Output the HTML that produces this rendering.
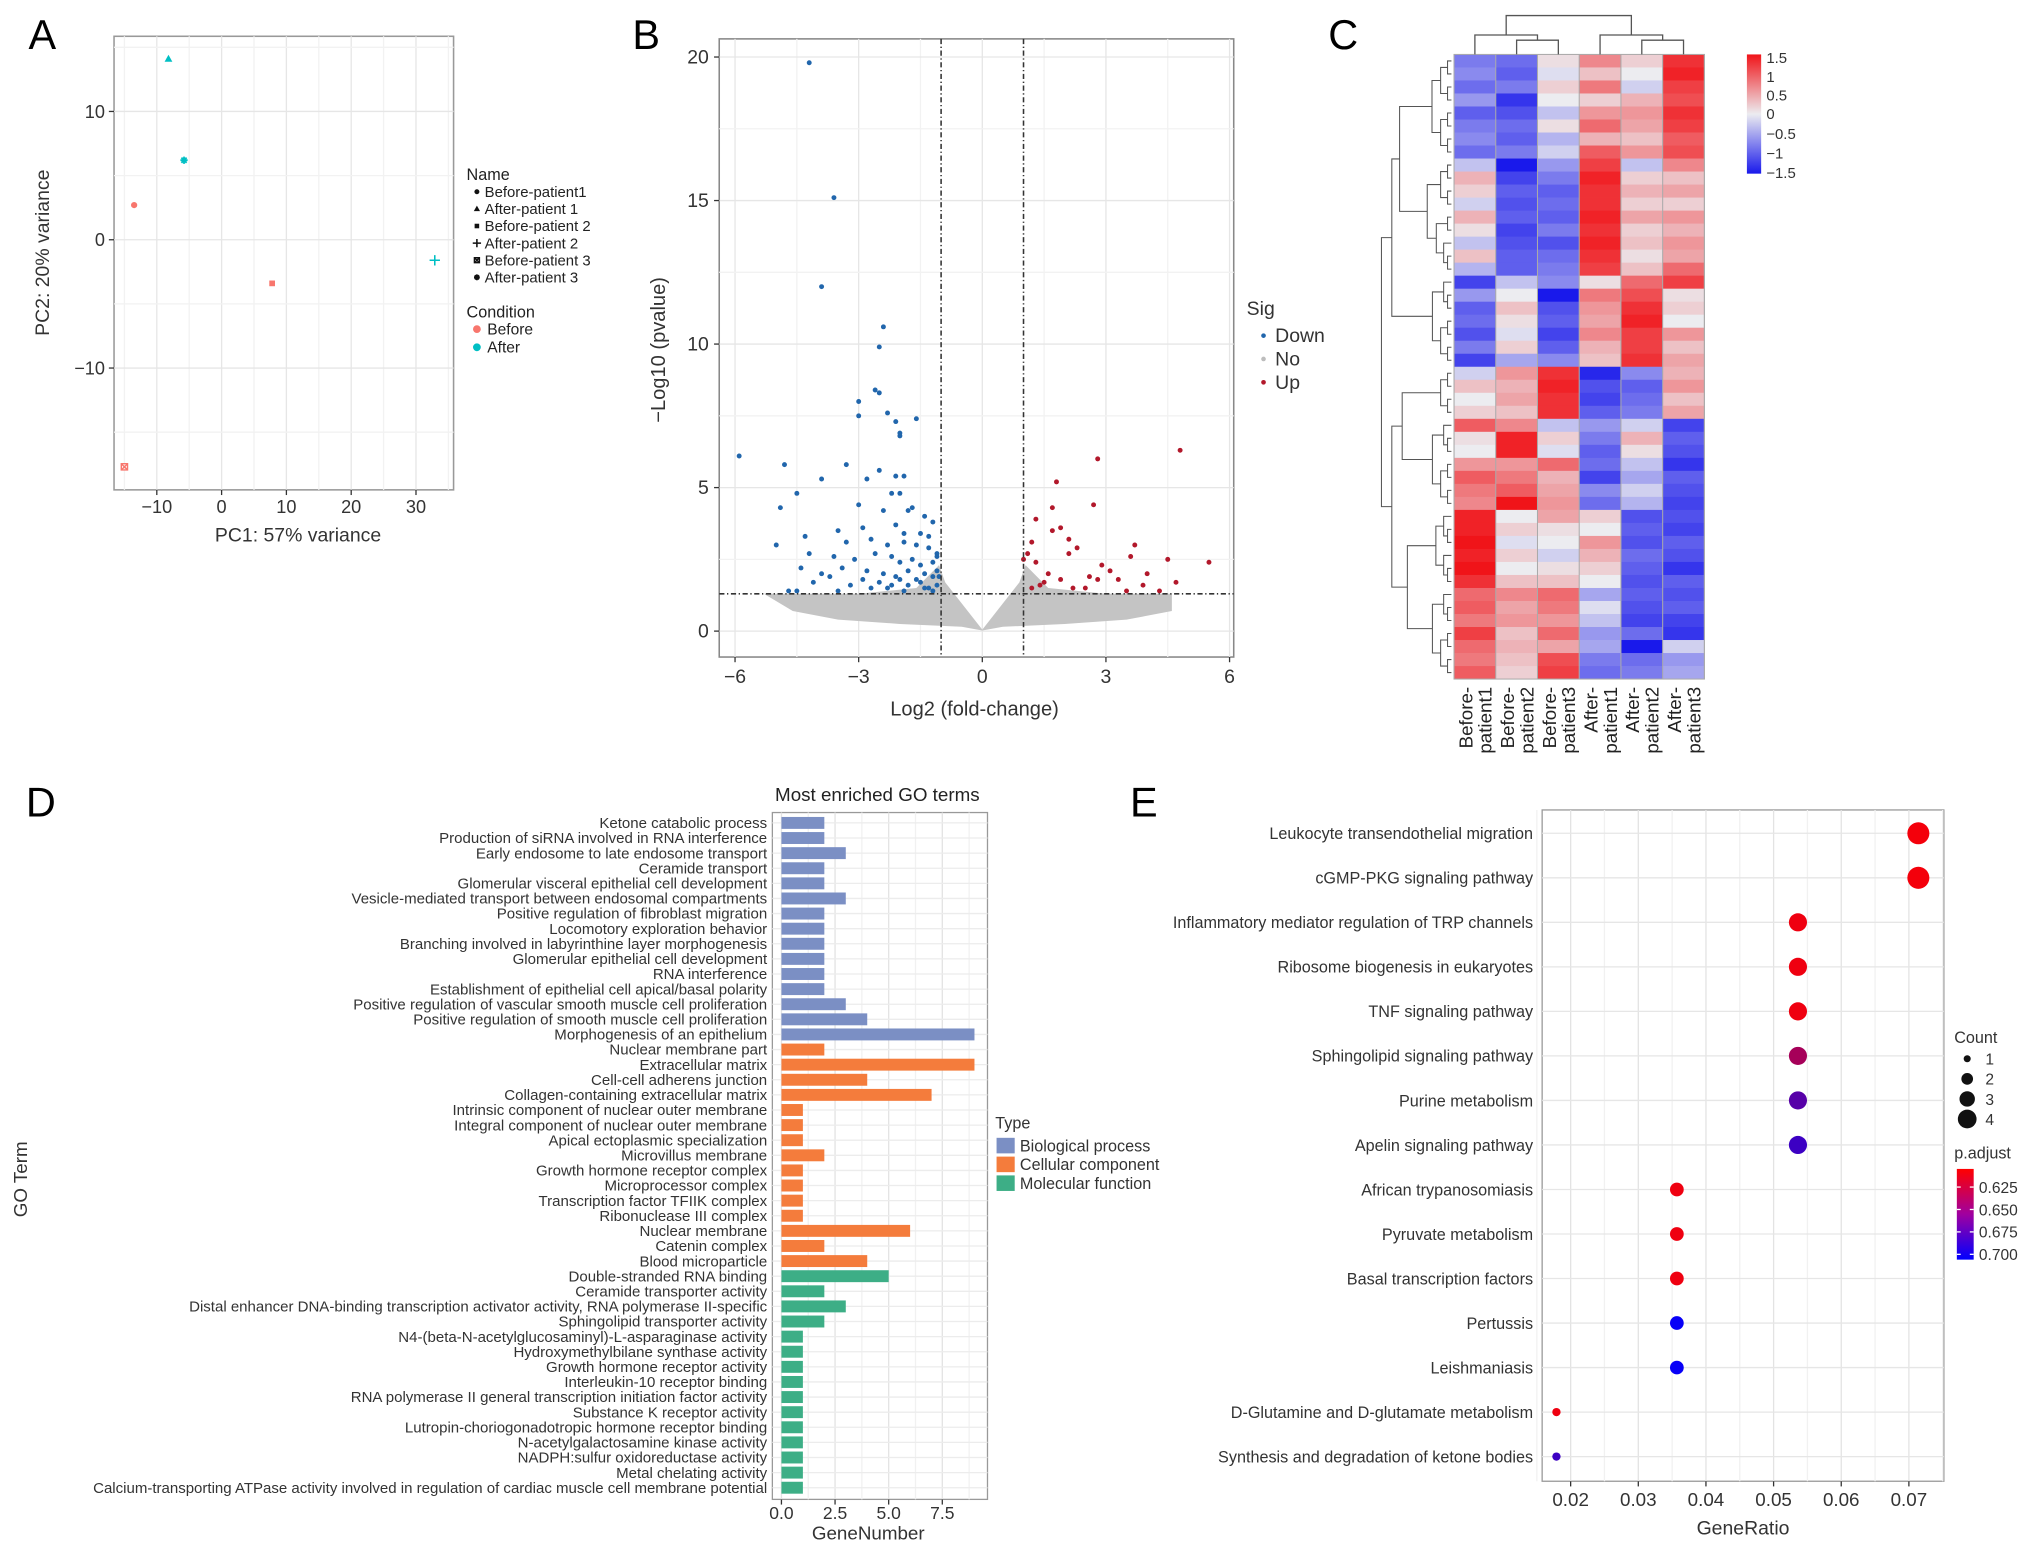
<!DOCTYPE html>
<html><head><meta charset="utf-8"><style>
html,body{margin:0;padding:0;background:#fff}
svg{display:block;font-family:"Liberation Sans",Arial,sans-serif}
</style></head><body>
<svg id="fig" width="2032" height="1552" viewBox="0 0 1568 1197.6" xmlns="http://www.w3.org/2000/svg">
<text x="22" y="38" font-size="32">A</text>
<text x="488" y="38" font-size="32">B</text>
<text x="1025" y="38" font-size="32">C</text>
<text x="20" y="630" font-size="32">D</text>
<text x="872" y="630" font-size="32">E</text>
<g id="gA"></g>
<g id="gB"></g>
<g id="gC"></g>
<g id="gD"></g>
<g id="gE"></g>
</svg>
<script>
// ---------- data: panel A ----------
const pcaNames=["Before-patient1","After-patient 1","Before-patient 2","After-patient 2","Before-patient 3","After-patient 3"];
const pcaPC1=[-13.5,-8.2,7.8,32.9,-15.0,-5.8];
const pcaPC2=[2.7,14.1,-3.4,-1.6,-17.7,6.2];
const pcaCond=["Before","After","Before","After","Before","After"];
const pcaXTicks=[-10,0,10,20,30];
const pcaYTicks=[-10,0,10];
// ---------- data: panel B ----------
const downX=[-4.2,-3.6,-3.9,-2.4,-2.5,-3.0,-2.6,-2.5,-3.0,-2.3,-2.1,-1.6,-2.0,-2.0,-5.9,-4.8,-3.3,-2.5,-1.9,-2.1,-2.8,-3.9,-2.2,-2.0,-4.5,-4.9,-3.0,-2.4,-1.8,-1.7,-1.4,-1.2,-3.5,-2.9,-2.1,-1.9,-1.5,-1.3,-5.0,-4.3,-3.3,-2.7,-2.3,-1.9,-1.6,-1.3,-1.1,-4.2,-3.6,-3.1,-2.6,-2.2,-2.0,-1.7,-1.5,-1.2,-1.1,-4.4,-3.9,-3.4,-2.8,-2.4,-2.1,-1.8,-1.6,-1.4,-1.2,-1.1,-4.7,-4.1,-3.7,-3.2,-2.9,-2.5,-2.3,-2.0,-1.8,-1.5,-1.3,-1.1,-4.5,-3.5,-2.7,-2.2,-1.9,-1.4,-1.2,-1.05];
const downY=[19.8,15.1,12.0,10.6,9.9,8.0,8.4,8.3,7.5,7.6,7.3,7.4,6.9,6.8,6.1,5.8,5.8,5.6,5.4,5.4,5.3,5.3,4.8,4.8,4.8,4.3,4.4,4.2,4.2,4.3,4.0,3.8,3.5,3.6,3.7,3.4,3.4,3.3,3.0,3.3,3.1,3.2,3.0,3.1,3.0,2.9,2.7,2.7,2.6,2.5,2.7,2.6,2.4,2.5,2.3,2.4,2.6,2.2,2.0,2.2,2.1,2.0,1.9,2.1,1.8,2.0,1.9,2.1,1.4,1.7,1.9,1.6,1.8,1.7,1.5,1.8,1.6,1.7,1.5,1.6,1.4,1.4,1.5,1.6,1.4,1.5,1.4,1.9];
const upX=[4.8,2.8,1.8,2.7,1.7,1.3,1.9,1.7,2.1,1.2,2.3,3.7,2.1,3.6,4.5,5.5,1.1,2.9,3.1,4.0,1.3,1.6,2.6,2.8,3.3,1.9,1.5,3.9,4.7,1.0,2.2,1.4,3.5,4.3,2.5,1.2];
const upY=[6.3,6.0,5.2,4.4,4.3,3.9,3.6,3.5,3.2,3.1,2.9,3.0,2.7,2.6,2.5,2.4,2.7,2.3,2.1,2.0,2.4,2.0,1.9,1.8,1.8,1.8,1.7,1.6,1.7,2.5,1.5,1.6,1.4,1.4,1.5,1.5];
const volXTicks=[-6,-3,0,3,6];
const volYTicks=[0,5,10,15,20];
// ---------- data: panel C ----------
const hmCols=["Before-patient1","Before-patient2","Before-patient3","After-patient1","After-patient2","After-patient3"];
const hmVals=[
[-0.8,-0.9,0.1,0.7,0.2,1.3],[-0.7,-1.0,-0.1,0.3,0.0,1.4],[-0.9,-0.8,0.2,0.8,-0.2,1.2],[-0.6,-1.3,0.0,0.2,0.4,1.1],
[-1.0,-1.1,-0.3,0.6,0.6,1.3],[-0.8,-0.9,0.1,0.9,0.5,1.2],[-0.7,-1.0,-0.4,0.4,0.3,1.0],[-0.9,-0.8,-0.2,1.0,0.6,1.1],
[-0.3,-1.5,-0.6,1.2,-0.3,0.7],[0.4,-1.2,-0.8,1.4,0.2,0.3],[0.2,-1.0,-1.0,1.3,0.4,0.5],[-0.2,-1.1,-0.9,1.3,0.2,0.2],
[0.4,-1.0,-1.0,1.4,0.5,0.6],[0.1,-1.2,-0.8,1.3,0.2,0.4],[-0.3,-1.1,-1.1,1.4,0.3,0.6],[0.3,-1.0,-0.9,1.3,0.1,0.5],
[-0.4,-1.0,-0.8,1.2,0.3,0.9],[-1.2,-0.3,-0.7,0.1,0.9,1.2],[-0.6,0.0,-1.5,0.8,1.1,0.1],[-1.0,0.3,-1.1,0.6,1.3,0.2],
[-0.9,0.1,-1.0,0.5,1.4,0.0],[-1.1,-0.1,-1.2,0.7,1.2,0.6],[-0.8,0.2,-1.0,0.4,1.2,0.3],[-1.2,-0.5,-0.7,0.3,1.3,0.5],
[-0.2,0.6,1.3,-1.4,-0.7,0.4],[0.3,0.4,1.4,-1.1,-1.0,0.6],[0.0,0.5,1.3,-1.2,-0.9,0.3],[0.2,0.3,1.3,-1.0,-0.8,0.5],
[1.0,0.7,-0.3,-0.6,-0.2,-1.2],[0.1,1.4,0.2,-0.8,0.4,-1.0],[0.0,1.4,-0.1,-1.0,0.1,-1.1],[0.6,0.6,0.9,-0.9,-0.3,-1.3],
[1.0,0.8,0.4,-1.2,-0.5,-1.0],[0.8,1.0,0.5,-0.7,-0.2,-1.1],[0.7,1.5,0.6,-0.9,-0.4,-1.2],
[1.4,0.0,0.5,0.2,-1.1,-1.1],[1.4,0.2,0.1,0.0,-1.0,-1.2],[1.5,-0.1,0.0,0.6,-1.1,-1.0],[1.4,0.2,-0.2,0.4,-0.9,-1.1],
[1.5,0.0,0.1,0.2,-1.0,-1.3],[1.3,0.3,0.3,0.0,-1.1,-1.0],
[0.9,0.7,0.9,-0.5,-1.0,-1.1],[1.0,0.5,0.8,-0.1,-1.1,-1.0],[0.8,0.6,0.6,-0.3,-1.2,-1.2],[1.2,0.3,0.9,-0.6,-0.9,-1.3],
[0.9,0.4,0.5,-0.5,-1.5,-0.2],[0.8,0.3,1.1,-0.8,-0.9,-0.6],[1.0,0.2,1.2,-0.9,-0.8,-0.5]];
const hmLegendTicks=[1.5,1,0.5,0,-0.5,-1,-1.5];
// ---------- data: panel D ----------
const goTerms=["Ketone catabolic process","Production of siRNA involved in RNA interference","Early endosome to late endosome transport","Ceramide transport","Glomerular visceral epithelial cell development","Vesicle-mediated transport between endosomal compartments","Positive regulation of fibroblast migration","Locomotory exploration behavior","Branching involved in labyrinthine layer morphogenesis","Glomerular epithelial cell development","RNA interference","Establishment of epithelial cell apical/basal polarity","Positive regulation of vascular smooth muscle cell proliferation","Positive regulation of smooth muscle cell proliferation","Morphogenesis of an epithelium","Nuclear membrane part","Extracellular matrix","Cell-cell adherens junction","Collagen-containing extracellular matrix","Intrinsic component of nuclear outer membrane","Integral component of nuclear outer membrane","Apical ectoplasmic specialization","Microvillus membrane","Growth hormone receptor complex","Microprocessor complex","Transcription factor TFIIK complex","Ribonuclease III complex","Nuclear membrane","Catenin complex","Blood microparticle","Double-stranded RNA binding","Ceramide transporter activity","Distal enhancer DNA-binding transcription activator activity, RNA polymerase II-specific","Sphingolipid transporter activity","N4-(beta-N-acetylglucosaminyl)-L-asparaginase activity","Hydroxymethylbilane synthase activity","Growth hormone receptor activity","Interleukin-10 receptor binding","RNA polymerase II general transcription initiation factor activity","Substance K receptor activity","Lutropin-choriogonadotropic hormone receptor binding","N-acetylgalactosamine kinase activity","NADPH:sulfur oxidoreductase activity","Metal chelating activity","Calcium-transporting ATPase activity involved in regulation of cardiac muscle cell membrane potential"];
const goCounts=[2,2,3,2,2,3,2,2,2,2,2,2,3,4,9,2,9,4,7,1,1,1,2,1,1,1,1,6,2,4,5,2,3,2,1,1,1,1,1,1,1,1,1,1,1];
const goTypes=["BP","BP","BP","BP","BP","BP","BP","BP","BP","BP","BP","BP","BP","BP","BP","CC","CC","CC","CC","CC","CC","CC","CC","CC","CC","CC","CC","CC","CC","CC","MF","MF","MF","MF","MF","MF","MF","MF","MF","MF","MF","MF","MF","MF","MF"];
const goXTicks=[0,2.5,5,7.5];
// ---------- data: panel E ----------
const keggTerms=["Leukocyte transendothelial migration","cGMP-PKG signaling pathway","Inflammatory mediator regulation of TRP channels","Ribosome biogenesis in eukaryotes","TNF signaling pathway","Sphingolipid signaling pathway","Purine metabolism","Apelin signaling pathway","African trypanosomiasis","Pyruvate metabolism","Basal transcription factors","Pertussis","Leishmaniasis","D-Glutamine and D-glutamate metabolism","Synthesis and degradation of ketone bodies"];
const keggRatio=[0.0714,0.0714,0.0536,0.0536,0.0536,0.0536,0.0536,0.0536,0.0357,0.0357,0.0357,0.0357,0.0357,0.0179,0.0179];
const keggCount=[4,4,3,3,3,3,3,3,2,2,2,2,2,1,1];
const keggPadj=[0.610,0.610,0.612,0.612,0.612,0.640,0.670,0.680,0.612,0.612,0.612,0.700,0.700,0.612,0.680];
const keggXTicks=[0.02,0.03,0.04,0.05,0.06,0.07];
const padjTicks=[0.625,0.650,0.675,0.700];
const countTicks=[1,2,3,4];

const NS="http://www.w3.org/2000/svg";
function mk(tag,attrs,parent,txt){const e=document.createElementNS(NS,tag);for(const k in attrs)e.setAttribute(k,attrs[k]);if(txt!==undefined)e.textContent=txt;parent.appendChild(e);return e;}

// ===== Panel A =====
(function(){
const g=document.getElementById('gA');
const L=88,R=350,T=28,B=378;
const x=v=>171+5.0*v, y=v=>185-9.9*v;
mk('rect',{x:L,y:T,width:R-L,height:B-T,fill:'#fff',stroke:'#999','stroke-width':1.2},g);
for(let v=-15;v<=35;v+=5){mk('line',{x1:x(v),x2:x(v),y1:T,y2:B,stroke:v%10===0?'#e6e6e6':'#f2f2f2','stroke-width':1},g);}
for(let v=-15;v<=15;v+=5){mk('line',{x1:L,x2:R,y1:y(v),y2:y(v),stroke:v%10===0?'#e6e6e6':'#f2f2f2'},g);}
pcaXTicks.forEach(t=>{mk('line',{x1:x(t),x2:x(t),y1:B,y2:B+4,stroke:'#333'},g);
 const e=mk('text',{x:x(t),y:B+18,'font-size':14,'text-anchor':'middle',fill:'#333'},g,t<0?'\u2212'+(-t):t);
 });
pcaYTicks.forEach(t=>{mk('line',{x1:L-4,x2:L,y1:y(t),y2:y(t),stroke:'#333'},g);
 const e=mk('text',{x:L-7,y:y(t)+5,'font-size':14,'text-anchor':'end',fill:'#333'},g,t<0?'\u2212'+(-t):t);
 });
let t1=mk('text',{x:230,y:418,'font-size':15,'text-anchor':'middle',fill:'#333'},g,'PC1: 57% variance');

let t2=mk('text',{x:0,y:0,'font-size':15,'text-anchor':'middle',fill:'#333',transform:'translate(38,195) rotate(-90)'},g,'PC2: 20% variance');

function marker(i,cx,cy,col,s){
 if(i===0)return mk('circle',{cx,cy,r:s*0.6,fill:col},g);
 if(i===1)return mk('path',{d:`M${cx},${cy-s*0.8}L${cx+s*0.75},${cy+s*0.55}L${cx-s*0.75},${cy+s*0.55}Z`,fill:col},g);
 if(i===2)return mk('rect',{x:cx-s*0.55,y:cy-s*0.55,width:s*1.1,height:s*1.1,fill:col},g);
 if(i===3)return mk('path',{d:`M${cx-s},${cy}H${cx+s}M${cx},${cy-s}V${cy+s}`,stroke:col,'stroke-width':1.2,fill:'none'},g);
 if(i===4)return mk('path',{d:`M${cx-s*0.6},${cy-s*0.6}h${s*1.2}v${s*1.2}h${-s*1.2}zM${cx-s*0.6},${cy-s*0.6}l${s*1.2},${s*1.2}M${cx+s*0.6},${cy-s*0.6}l${-s*1.2},${s*1.2}`,stroke:col,'stroke-width':1.1,fill:'none'},g);
 return mk('path',{d:`M${cx-s*0.7},${cy}H${cx+s*0.7}M${cx},${cy-s*0.7}V${cy+s*0.7}M${cx-s*0.5},${cy-s*0.5}L${cx+s*0.5},${cy+s*0.5}M${cx+s*0.5},${cy-s*0.5}L${cx-s*0.5},${cy+s*0.5}`,stroke:col,'stroke-width':1.4,fill:'none'},g);
}
pcaNames.forEach((n,i)=>{const col=pcaCond[i]==='Before'?'#f8766d':'#00bfc4';
 const m=marker(i,x(pcaPC1[i]),y(pcaPC2[i]),col,4);
 });
let lt=mk('text',{x:360,y:139,'font-size':12.5,fill:'#222'},g,'Name');
pcaNames.forEach((n,i)=>{const yy=152+i*13.2;marker(i,368,yy-4,'#111',3.2);
 const e=mk('text',{x:374,y:yy,'font-size':11.5,fill:'#222'},g,n);});
let lc=mk('text',{x:360,y:245,'font-size':12.5,fill:'#222'},g,'Condition');
[['Before','#f8766d'],['After','#00bfc4']].forEach((d,i)=>{const yy=258+i*14;mk('circle',{cx:368,cy:yy-4,r:3,fill:d[1]},g);
 const e=mk('text',{x:376,y:yy,'font-size':12,fill:'#222'},g,d[0]);});
})();

// ===== Panel B =====
(function(){
const g=document.getElementById('gB');
const L=555,R=952,T=30,B=507;
const x=v=>758+31.8*v, y=v=>487-22.15*v;
mk('rect',{x:L,y:T,width:R-L,height:B-T,fill:'#fff',stroke:'#888','stroke-width':1.2},g);
for(let v=-6;v<=6;v+=1.5)mk('line',{x1:x(v),x2:x(v),y1:T,y2:B,stroke:Math.abs(v%3)<0.01?'#e6e6e6':'#f2f2f2'},g);
for(let v=0;v<=20;v+=2.5)mk('line',{x1:L,x2:R,y1:y(v),y2:y(v),stroke:v%5===0?'#e6e6e6':'#f2f2f2'},g);
volXTicks.forEach(t=>{mk('line',{x1:x(t),x2:x(t),y1:B,y2:B+4,stroke:'#333'},g);
 const e=mk('text',{x:x(t),y:B+20,'font-size':15,'text-anchor':'middle',fill:'#333'},g,t<0?'\u2212'+(-t):t);
 });
volYTicks.forEach(t=>{mk('line',{x1:L-4,x2:L,y1:y(t),y2:y(t),stroke:'#333'},g);
 const e=mk('text',{x:L-8,y:y(t)+5,'font-size':15,'text-anchor':'end',fill:'#333'},g,t);
 });
const cloudX=[-5.3,-3,-1.6,-1.05,-0.9,0,0.9,1.05,1.6,3,4.6,4.6,3.5,2,0.5,0,-0.5,-2,-3.5,-4.6];
const cloudY=[1.3,1.3,1.5,2.3,1.7,0.05,1.7,2.3,1.5,1.3,1.3,0.7,0.4,0.25,0.15,0.02,0.15,0.25,0.4,0.7];
const cloud=mk('path',{d:cloudX.map((v,i)=>(i?'L':'M')+x(v)+','+y(cloudY[i])).join('')+'Z',fill:'#c4c4c4'},g);

downX.forEach((v,i)=>{const c=mk('circle',{cx:x(v),cy:y(downY[i]),r:1.9,fill:'#2166ac'},g);
 });
upX.forEach((v,i)=>{const c=mk('circle',{cx:x(v),cy:y(upY[i]),r:1.9,fill:'#b2182b'},g);
 });
[-1,1].forEach(v=>mk('line',{x1:x(v),x2:x(v),y1:T,y2:B,stroke:'#333','stroke-width':1.2,'stroke-dasharray':'4,2,1,2'},g));
mk('line',{x1:L,x2:R,y1:y(1.3),y2:y(1.3),stroke:'#333','stroke-width':1.2,'stroke-dasharray':'4,2,1,2'},g);
let a=mk('text',{x:752,y:552,'font-size':15.5,'text-anchor':'middle',fill:'#333'},g,'Log2 (fold-change)');
let b=mk('text',{x:0,y:0,'font-size':15.5,'text-anchor':'middle',fill:'#333',transform:'translate(513,270) rotate(-90)'},g,'\u2212Log10 (pvalue)');
let s=mk('text',{x:962,y:243,'font-size':15,fill:'#333'},g,'Sig');
[['Down','#2166ac'],['No','#bdbdbd'],['Up','#b2182b']].forEach((d,i)=>{const yy=263+i*18;mk('circle',{cx:975,cy:yy-4,r:1.8,fill:d[1]},g);
 const e=mk('text',{x:984,y:yy+1,'font-size':15,fill:'#333'},g,d[0]);});
})();

// ===== Panel C =====
(function(){
const g=document.getElementById('gC');
const L=1122,T=42,CW=32.2,RH=(524-42)/hmVals.length;
function col(v){v=Math.max(-1.5,Math.min(1.5,v));const w=[236,236,240];
 if(v>=0){const t=v/1.5;return `rgb(${Math.round(w[0]+(240-w[0])*t)},${Math.round(w[1]+(20-w[1])*t)},${Math.round(w[2]+(25-w[2])*t)})`;}
 const t=-v/1.5;return `rgb(${Math.round(w[0]+(25-w[0])*t)},${Math.round(w[1]+(25-w[1])*t)},${Math.round(w[2]+(235-w[2])*t)})`;}
hmVals.forEach((row,r)=>row.forEach((v,c)=>{const e=mk('rect',{x:L+c*CW,y:T+r*RH,width:CW+0.3,height:RH+0.3,fill:col(v)},g);
 }));
for(let c=0;c<=6;c++)mk('line',{x1:L+c*CW,x2:L+c*CW,y1:T,y2:T+hmVals.length*RH,stroke:'#aaa','stroke-width':0.8},g);
mk('rect',{x:L,y:T,width:6*CW,height:hmVals.length*RH,fill:'none',stroke:'#aaa','stroke-width':0.8},g);
const cx=i=>L+(i+0.5)*CW;
const dg=mk('g',{stroke:'#555','stroke-width':1,fill:'none'},g);

function br(x1,y1,x2,y2,yt){mk('path',{d:`M${x1},${y1}V${yt}H${x2}V${y2}`},dg);}
br(cx(1),T,cx(2),T,31);br(cx(0),T,(cx(1)+cx(2))/2,31,27);
br(cx(4),T,cx(5),T,31);br(cx(3),T,(cx(4)+cx(5))/2,31,27);
br((cx(0)+(cx(1)+cx(2))/2)/2,27,(cx(3)+(cx(4)+cx(5))/2)/2,27,12);
const rg=mk('g',{stroke:'#555','stroke-width':0.8,fill:'none'},g);

const blocks=[[0,8],[8,17],[17,24],[24,28],[28,35],[35,41],[41,48]];
function tree(a,b){
 if(b-a===1)return [T+(a+0.5)*RH,1120];
 const m=Math.floor((a+b)/2);const l=tree(a,m),r=tree(m,b);
 const xx=Math.min(l[1],r[1])-(b-a<=3?3:4+(b-a)/3);
 mk('path',{d:`M${l[1]},${l[0]}H${xx}V${r[0]}H${r[1]}`},rg);return [(l[0]+r[0])/2,xx];}
const tops=blocks.map(bk=>tree(bk[0],bk[1]));
function join(a,b,xx){mk('path',{d:`M${a[1]},${a[0]}H${xx}V${b[0]}H${b[1]}`},rg);return [(a[0]+b[0])/2,xx];}
const j1=join(tops[0],tops[1],1080);const j2=join(j1,tops[2],1074);
const j3=join(tops[3],tops[4],1082);const j4=join(tops[5],tops[6],1086);const j5=join(j3,j4,1074);
join(j2,j5,1066);
hmCols.forEach((n,i)=>{const p=n.split('-');
 const e=mk('text',{x:0,y:0,'font-size':14.5,fill:'#222','text-anchor':'end',transform:`translate(${cx(i)},530) rotate(-90)`},g);
 
 mk('tspan',{x:0,dy:-2},e,p[0]+'-');mk('tspan',{x:0,dy:15},e,p[1]);});
const defs=mk('defs',{},g);const lg=mk('linearGradient',{id:'hmg',x1:0,y1:0,x2:0,y2:1},defs);
[[0,1.5],[0.5,0],[1,-1.5]].forEach(s=>mk('stop',{offset:s[0],'stop-color':col(s[1])},lg));
const bar=mk('rect',{x:1348,y:42,width:11,height:92,fill:'url(#hmg)'},g);
hmLegendTicks.forEach(t=>{const yy=88-t*28.8+(t<0?t*(-1.5):0);
 const e=mk('text',{x:1363,y:yy+4,'font-size':11.5,fill:'#333'},g,t<0?'\u2212'+(-t):t);
 });
})();

// ===== Panel D =====
(function(){
const g=document.getElementById('gD');
const L=596,R=762,T=627,B=1157;
const x=v=>603+16.55*v; const step=(1148-635)/(goTerms.length-1); const y=i=>635+i*step;
const colors={BP:'#7b8fc4',CC:'#f47c3c',MF:'#3dae86'};
mk('rect',{x:L,y:T,width:R-L,height:B-T,fill:'#fff',stroke:'#999','stroke-width':1},g);
for(let v=0;v<=8.75;v+=1.25)mk('line',{x1:x(v),x2:x(v),y1:T,y2:B,stroke:Math.abs(v%2.5)<0.01?'#e3e3e3':'#f1f1f1'},g);
goTerms.forEach((t,i)=>mk('line',{x1:L,x2:R,y1:y(i),y2:y(i),stroke:'#ececec'},g));
goTerms.forEach((t,i)=>{
 const r=mk('rect',{x:x(0),y:y(i)-4.6,width:x(goCounts[i])-x(0),height:9.2,fill:colors[goTypes[i]]},g);
 
 const e=mk('text',{x:592,y:y(i)+4,'font-size':11.6,'text-anchor':'end',fill:'#333'},g,t);
 });
goXTicks.forEach(t=>{mk('line',{x1:x(t),x2:x(t),y1:B,y2:B+4,stroke:'#333'},g);
 const e=mk('text',{x:x(t),y:B+15,'font-size':13.5,'text-anchor':'middle',fill:'#333'},g,t.toFixed(1));
 });
let tt=mk('text',{x:677,y:618,'font-size':14.5,'text-anchor':'middle',fill:'#222'},g,'Most enriched GO terms');
let xa=mk('text',{x:670,y:1188,'font-size':14.5,'text-anchor':'middle',fill:'#333'},g,'GeneNumber');
let ya=mk('text',{x:0,y:0,'font-size':14.5,'text-anchor':'middle',fill:'#333',transform:'translate(21,910) rotate(-90)'},g,'GO Term');
let lt=mk('text',{x:768,y:871,'font-size':12.5,fill:'#333'},g,'Type');
[['Biological process','BP'],['Cellular component','CC'],['Molecular function','MF']].forEach((d,i)=>{const yy=884+i*14.5;
 mk('rect',{x:769,y:yy-6,width:14,height:12,fill:colors[d[1]]},g);
 const e=mk('text',{x:787,y:yy+4.5,'font-size':12.5,fill:'#333'},g,d[0]);});
})();

// ===== Panel E =====
(function(){
const g=document.getElementById('gE');
const L=1190,R=1500,T=625,B=1143;
const x=v=>1212+5220*(v-0.02); const step=(1124-643)/(keggTerms.length-1); const y=i=>643+i*step;
const rad=c=>[0,3.2,5.3,7,8.5][c];
function pc(p){const t=Math.max(0,Math.min(1,(p-0.606)/(0.703-0.606)));return `rgb(${Math.round(255*(1-t))},0,${Math.round(255*t)})`;}
mk('rect',{x:L,y:T,width:R-L,height:B-T,fill:'#fff',stroke:'#999','stroke-width':1},g);
for(let v=0.015;v<=0.0751;v+=0.005)mk('line',{x1:x(v),x2:x(v),y1:T,y2:B,stroke:Math.round(v*1000)%10===0?'#e3e3e3':'#f1f1f1'},g);
keggTerms.forEach((t,i)=>mk('line',{x1:L,x2:R,y1:y(i),y2:y(i),stroke:'#e6e6e6'},g));
keggTerms.forEach((t,i)=>{
 const c=mk('circle',{cx:x(keggRatio[i]),cy:y(i),r:rad(keggCount[i]),fill:pc(keggPadj[i])},g);
 
 const e=mk('text',{x:1183,y:y(i)+4.5,'font-size':12.5,'text-anchor':'end',fill:'#333'},g,t);
 });
keggXTicks.forEach(t=>{mk('line',{x1:x(t),x2:x(t),y1:B,y2:B+4,stroke:'#333'},g);
 const e=mk('text',{x:x(t),y:B+19,'font-size':14.5,'text-anchor':'middle',fill:'#333'},g,t);
 });
let xa=mk('text',{x:1345,y:1184,'font-size':15,'text-anchor':'middle',fill:'#333'},g,'GeneRatio');
let ct=mk('text',{x:1508,y:805,'font-size':12.5,fill:'#333'},g,'Count');
countTicks.forEach((c,i)=>{const yy=817+i*15.5;mk('circle',{cx:1518,cy:yy,r:rad(c)*0.85,fill:'#111'},g);
 const e=mk('text',{x:1532,y:yy+4.5,'font-size':12,fill:'#333'},g,c);});
let pt=mk('text',{x:1508,y:894,'font-size':12.5,fill:'#333'},g,'p.adjust');
const defs=mk('defs',{},g);const lg=mk('linearGradient',{id:'pg',x1:0,y1:0,x2:0,y2:1},defs);
mk('stop',{offset:0,'stop-color':'#ff0000'},lg);mk('stop',{offset:0.5,'stop-color':'#a000a0'},lg);mk('stop',{offset:1,'stop-color':'#0000ff'},lg);
const bar=mk('rect',{x:1510,y:902,width:13,height:70,fill:'url(#pg)'},g);
padjTicks.forEach(p=>{const yy=916+(p-0.625)/0.025*17.3;mk('line',{x1:1510,x2:1513,y1:yy,y2:yy,stroke:'#fff'},g);mk('line',{x1:1520,x2:1523,y1:yy,y2:yy,stroke:'#fff'},g);
 const e=mk('text',{x:1527,y:yy+4.5,'font-size':12,fill:'#333'},g,p.toFixed(3));});
})();
</script>
</body></html>
